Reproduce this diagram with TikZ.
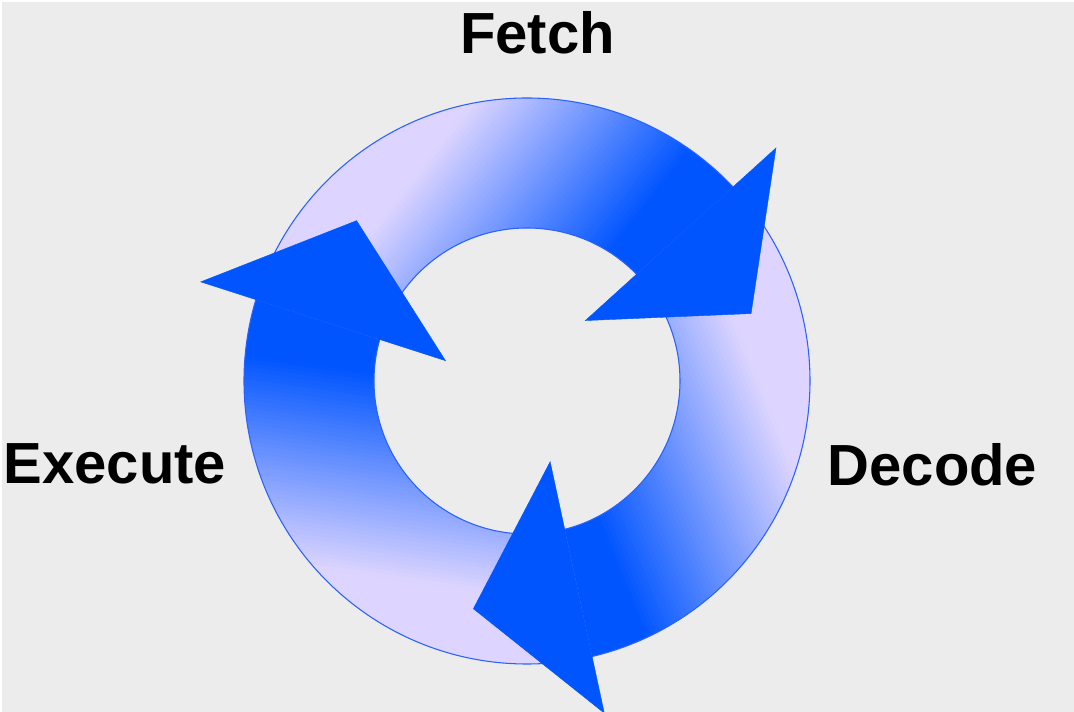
\documentclass[tikz,border=0pt]{standalone}
\usepackage{fontspec}
\setmainfont{Liberation Sans}
\definecolor{bg}{HTML}{ECECEC}
\definecolor{lav}{HTML}{DDD5FF}
\definecolor{arrowblue}{HTML}{0055FF}
\definecolor{ringline}{HTML}{2A62FF}
\tikzset{
  ringfill/.style={fill=lav, even odd rule},
  ringedge/.style={draw=ringline, line width=0.8pt},
  headfill/.style={fill=arrowblue, draw=arrowblue, line width=0.3pt, line join=miter},
  labeltext/.style={font=\fontsize{43.5}{44}\selectfont\bfseries, text=black, inner sep=0pt, anchor=base}
}
\newcommand{\bandpath}{(160:283) arc[start angle=160,end angle=43.3,radius=283] -- (44.3:153) arc[start angle=44.3,end angle=160,radius=153] -- cycle}
\newcommand{\headpath}{(43.1:341) -- (16.75:234) -- (46:84) -- cycle}
\begin{document}
\begin{tikzpicture}[x=0.75pt,y=0.75pt]
  \useasboundingbox (-527,-331) rectangle (547,381);
  \fill[white] (-527,-331) rectangle (547,381);
  \fill[bg] (-525,-331) rectangle (547,379);
  % ring
  \fill[ringfill] (0,0) circle[radius=283] (0,0) circle[radius=153];
  % gradient bands
  \foreach \r in {0,120,240} {
    \begin{scope}[rotate=\r]
      \clip \bandpath;
      \begin{scope}[rotate=-38]
        \fill[lav] (-400,-400) rectangle (-214,400);
        \foreach \i in {0,...,49} {
          \pgfmathsetmacro\p{(\i+0.5)*2}
          \fill[arrowblue!\p!lav] ({-215+\i*4.04},-400) rectangle ({-215+(\i+1)*4.04+0.6},400);
        }
        \fill[arrowblue] (-13.2,-400) rectangle (400,400);
      \end{scope}
    \end{scope}
  }
  % ring outlines
  \draw[ringedge] (0,0) circle[radius=283];
  \draw[ringedge] (0,0) circle[radius=153];
  % arrow heads
  \foreach \r in {0,120,240} {
    \begin{scope}[rotate=\r]
      \filldraw[headfill] \headpath;
    \end{scope}
  }
  % labels
  \node[labeltext] (fetch) at (10.5,327) {Fetch};
  \node[labeltext] (decode) at (405.5,-105) {Decode};
  \node[labeltext] (execute) at (-412,-103) {Execute};
\end{tikzpicture}
\end{document}
